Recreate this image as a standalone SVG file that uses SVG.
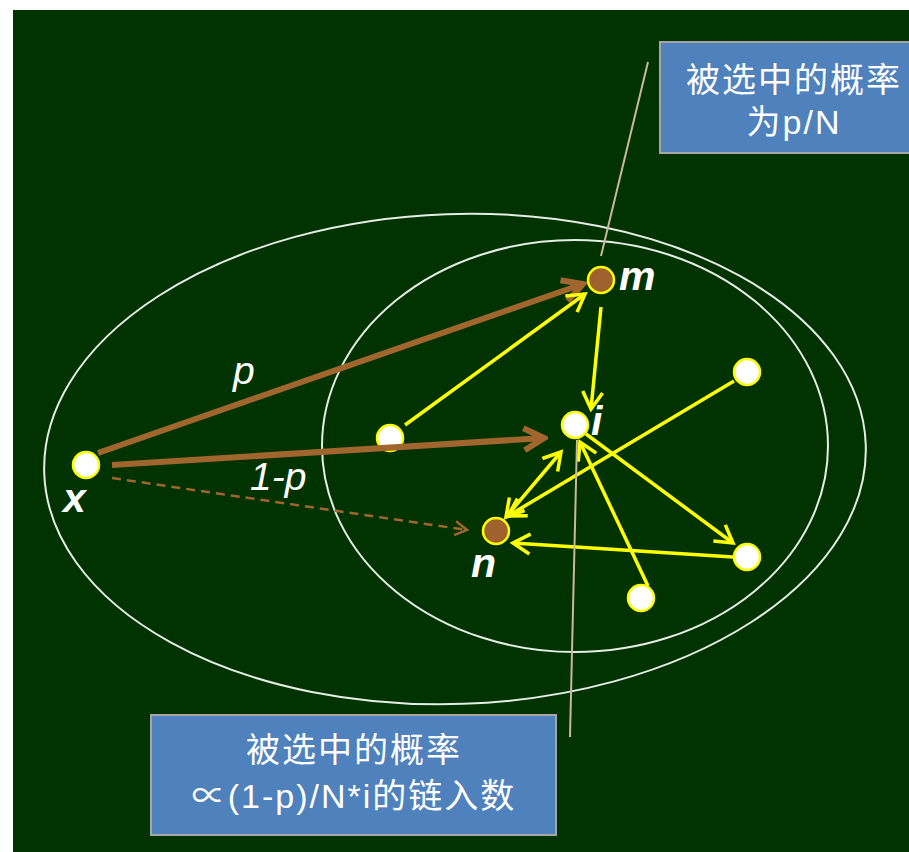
<svg xmlns="http://www.w3.org/2000/svg" width="909" height="852" viewBox="0 0 909 852">
<style>
.ell{fill:none;stroke:#E6ECE6;stroke-width:2}
.wn{fill:#FFFFFF;stroke:#FFFF00;stroke-width:2.5}
.bn{fill:#A0622D;stroke:#FFFF00;stroke-width:2.5}
.br{fill:none;stroke:#A0662E;stroke-width:6}
.brd{fill:none;stroke:#A0662E;stroke-width:2.5;stroke-dasharray:9 6}
.yl{fill:none;stroke:#FFFF00;stroke-width:3.5}
.tan{fill:none;stroke:#C9B89C;stroke-width:2}
.box{fill:#4F81BD;stroke:#A6A6A6;stroke-width:2}
.bt{fill:#FFFFFF;font-family:"Liberation Sans","Noto Sans CJK SC",sans-serif;font-size:34px;text-anchor:middle;letter-spacing:2px}
.lbl{fill:#FFFFFF;font-family:"Liberation Sans",Arial,sans-serif;font-style:italic;font-weight:bold;font-size:41px}
.pl{fill:#FFFFFF;font-family:"Liberation Sans",Arial,sans-serif;font-style:italic;font-size:39px}
</style>
<defs>
<marker id="ab" markerUnits="userSpaceOnUse" viewBox="-34 -18 38 36" markerWidth="38" markerHeight="36" refX="0" refY="0" orient="auto">
<path d="M-20,-11 L0,0 L-20,11" fill="none" stroke="#A0662E" stroke-width="6"/>
</marker>
<marker id="ad" markerUnits="userSpaceOnUse" viewBox="-18 -11 22 22" markerWidth="22" markerHeight="22" refX="0" refY="0" orient="auto">
<path d="M-12,-7 L0,0 L-12,7" fill="none" stroke="#A0662E" stroke-width="2.5"/>
</marker>
<marker id="ay" markerUnits="userSpaceOnUse" viewBox="-26 -15 30 30" markerWidth="30" markerHeight="30" refX="0" refY="0" orient="auto-start-reverse">
<path d="M-17,-10 L0,0 L-17,10" fill="none" stroke="#FFFF00" stroke-width="3.5"/>
</marker>
</defs>
<rect x="0" y="0" width="909" height="852" fill="#FFFFFF"/>
<rect x="13" y="10" width="896" height="842" fill="#003300"/>
<g id="regions">
<ellipse class="ell" cx="455" cy="459" rx="411" ry="245" transform="rotate(-2 455 459)"/>
<ellipse class="ell" cx="575" cy="446" rx="253" ry="206"/>
</g>
<g id="node-x"><circle class="wn" cx="86" cy="465" r="13"/><text class="lbl" x="63" y="512">x</text></g>
<g id="node-a"><circle class="wn" cx="390" cy="438" r="13"/></g>
<g id="node-m"><circle class="bn" cx="601" cy="280" r="13"/><text class="lbl" x="619" y="290">m</text></g>
<g id="node-i"><circle class="wn" cx="575" cy="425" r="13"/><text class="lbl" x="591" y="435">i</text></g>
<g id="node-n"><circle class="bn" cx="496" cy="531" r="13"/><text class="lbl" x="471" y="577">n</text></g>
<g id="node-b"><circle class="wn" cx="747" cy="372" r="13"/></g>
<g id="node-c"><circle class="wn" cx="747" cy="557" r="13"/></g>
<g id="node-d"><circle class="wn" cx="641" cy="598" r="13"/></g>
<g id="connectors">
<line class="br" x1="98" y1="453" x2="583" y2="284" marker-end="url(#ab)"/>
<line class="br" x1="112" y1="465" x2="544" y2="438" marker-end="url(#ab)"/>
<line class="brd" x1="112" y1="478" x2="467" y2="530" marker-end="url(#ad)"/>
<line class="yl" x1="405" y1="425" x2="585" y2="294" marker-end="url(#ay)"/>
<line class="yl" x1="601" y1="307" x2="591" y2="409" marker-end="url(#ay)"/>
<line class="yl" x1="506" y1="517" x2="561" y2="452" marker-start="url(#ay)" marker-end="url(#ay)"/>
<line class="yl" x1="734" y1="381" x2="508" y2="516" marker-end="url(#ay)"/>
<line class="yl" x1="586" y1="434" x2="733" y2="543" marker-end="url(#ay)"/>
<line class="yl" x1="733" y1="557" x2="513" y2="543" marker-end="url(#ay)"/>
<line class="yl" x1="648" y1="586" x2="580" y2="442" marker-end="url(#ay)"/>
<line class="tan" x1="648" y1="62" x2="601" y2="256"/>
<line class="tan" x1="577" y1="440" x2="570" y2="737"/>
</g>
<g id="labels">
<text class="pl" x="233" y="384">p</text>
<text class="pl" x="250" y="490">1-p</text>
</g>
<g id="note-top">
<rect class="box" x="660" y="42" width="270" height="111"/>
<text class="bt" x="794" y="92">被选中的概率</text>
<text class="bt" x="794" y="134">为p/N</text>
</g>
<g id="note-bottom">
<rect class="box" x="151" y="715" width="405" height="120"/>
<text class="bt" x="354" y="762">被选中的概率</text>
<text class="bt" x="354" y="808">∝(1-p)/N*i的链入数</text>
</g>
</svg>
